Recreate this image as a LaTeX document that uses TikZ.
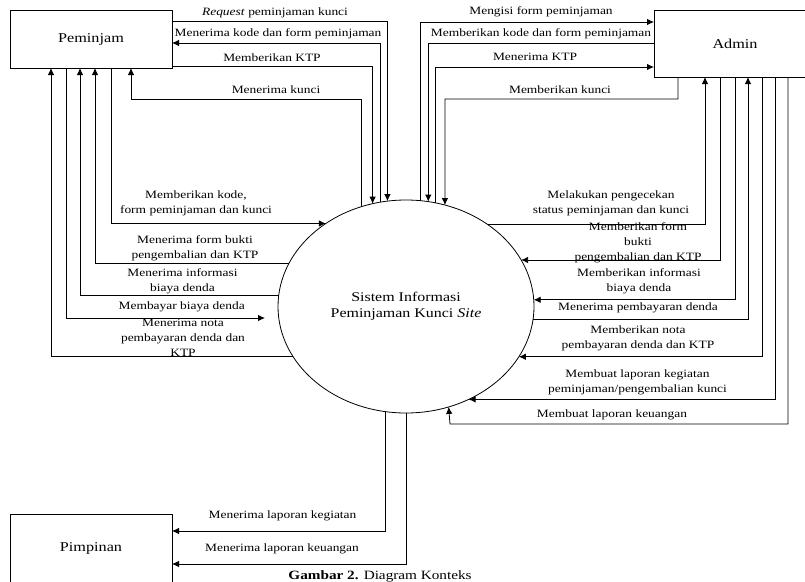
\documentclass[tikz,border=0pt]{standalone}
\usepackage{fontspec}
\setmainfont[FakeStretch=1.2]{Liberation Serif}
\usetikzlibrary{shapes.geometric,arrows.meta}

\tikzset{
  kotak/.style={draw, minimum width=162pt, inner sep=0pt, outer sep=0pt,
    font=\fontsize{13.5}{16}\selectfont},
  proses/.style={draw, ellipse, minimum width=256pt, minimum height=213pt,
    inner sep=0pt, outer sep=0pt, align=center, font=\fontsize{13.3}{16}\selectfont},
  ket/.style={inner sep=0pt, align=center, font=\fontsize{11.2}{15}\selectfont},
  alur/.style={-{Latex[length=7pt,width=6.5pt]}},
}

\begin{document}
\begin{tikzpicture}[x=1pt, y=-1pt, line width=0.8pt]
    \useasboundingbox (0,0) rectangle (805,581);

    % entitas dan proses
    \node[kotak, minimum height=58pt] (peminjam) at (91,39) {Peminjam};
    \node[kotak, minimum height=67pt] (admin) at (735,43.5) {Admin};
    \node[kotak, minimum height=68pt] (pimpinan) at (91,548) {Pimpinan};
    \node[proses] (sistem) at (406,306.5) {Sistem Informasi\\Peminjaman Kunci \textit{Site}};

    % Peminjam <-> sistem (atas)
    \draw[alur] (peminjam.east |- 0,21) -| (sistem.100.8);
    \draw[alur] (sistem.104.5) |- (peminjam.east |- 0,43);
    \draw[alur] (peminjam.east |- 0,66) -| (sistem.108.3);
    \draw[alur] (sistem.114.3) |- (131,99) -- (peminjam.south -| 131,0);
    \node[ket] (lRequest) at (275,13) {\textit{Request} peminjaman kunci};
    \node[ket] (lKodeP) at (278,34) {Menerima kode dan form peminjaman};
    \node[ket] (lKtpP) at (272,58) {Memberikan KTP};
    \node[ket] (lKunciP) at (276,90) {Menerima kunci};

    % Peminjam <-> sistem (kiri)
    \coordinate (bayar) at (265,318);
    \draw[alur] (peminjam.south -| 111,0) |- (sistem.134.5);
    \draw[alur] (sistem.160.1) -| (peminjam.south -| 95,0);
    \draw[alur] (sistem.175.7) -| (peminjam.south -| 80,0);
    \draw[alur] (peminjam.south -| 66,0) |- (bayar);
    \draw[alur] (sistem.204.7) -| (peminjam.south -| 51,0);
    \node[ket] (lKode) at (196,203) {Memberikan kode,\\form peminjaman dan kunci};
    \node[ket] (lBukti) at (195,248.5) {Menerima form bukti\\pengembalian dan KTP};
    \node[ket] (lInfoP) at (182.5,281) {Menerima informasi\\biaya denda};
    \node[ket] (lBayar) at (181.7,307) {Membayar biaya denda};
    \node[ket] (lNotaP) at (183,338) {Menerima nota\\pembayaran denda dan\\KTP};

    % Admin <-> sistem (atas)
    \draw[alur] (sistem.82.5) |- (admin.west |- 0,22);
    \draw[alur] (admin.west |- 0,43) -| (sistem.78.7);
    \draw[alur] (sistem.74.9) |- (admin.west |- 0,67);
    \draw[alur] (admin.south -| 678,0) |- (445,99) -- (sistem.69);
    \node[ket] (lIsi) at (541,12) {Mengisi form peminjaman};
    \node[ket] (lKodeA) at (541,34) {Memberikan kode dan form peminjaman};
    \node[ket] (lKtpA) at (535,57) {Menerima KTP};
    \node[ket] (lKunciA) at (560,90) {Memberikan kunci};

    % Admin <-> sistem (kanan)
    \draw[alur] (sistem.45.5) -| (admin.south -| 705,0);
    \draw[alur] (admin.south -| 720,0) |- (sistem.22.5);
    \draw[alur] (admin.south -| 735,0) |- (sistem.3.8);
    \draw[alur] (sistem.354.8) -| (admin.south -| 748,0);
    \draw[alur] (admin.south -| 762,0) |- (sistem.336.4);
    \draw[alur] (admin.south -| 775,0) |- (sistem.304.4);
    \draw[alur] (admin.south -| 788,0) |- (450,424) -- (sistem.293.7);
    \node[ket] (lCek) at (611,203) {Melakukan pengecekan\\status peminjaman dan kunci};
    \node[ket] (lFormA) at (638,243) {Memberikan form\\bukti\\pengembalian dan KTP};
    \node[ket] (lInfoA) at (639,281.5) {Memberikan informasi\\biaya denda};
    \node[ket] (lTerima) at (638,308) {Menerima pembayaran denda};
    \node[ket] (lNotaA) at (638,338.5) {Memberikan nota\\pembayaran denda dan KTP};
    \node[ket] (lLapKeg) at (637.5,382) {Membuat laporan kegiatan\\peminjaman/pengembalian kunci};
    \node[ket] (lLapUang) at (612,415) {Membuat laporan keuangan};

    % sistem -> Pimpinan
    \draw[alur] (sistem.259.2) |- (pimpinan.east |- 0,531);
    \draw[alur] (sistem.south) |- (pimpinan.east |- 0,564);
    \node[ket] (lKegP) at (282.5,516) {Menerima laporan kegiatan};
    \node[ket] (lUangP) at (282,549) {Menerima laporan keuangan};

    \node[anchor=base west, inner sep=0pt, font=\fontsize{12.7}{15}\selectfont] (judul)
      at (288,579.5) {\textbf{Gambar 2.} Diagram Konteks};
\end{tikzpicture}
\end{document}
